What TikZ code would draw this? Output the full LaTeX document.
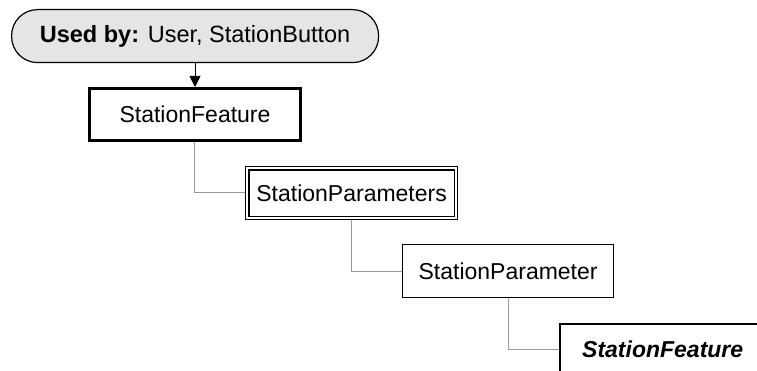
\documentclass[tikz,border=0pt]{standalone}
\usepackage{fontspec}
\setmainfont{Liberation Sans}
\usetikzlibrary{arrows.meta}
\begin{document}
\begin{tikzpicture}[x=1pt,y=-1pt,
  font=\fontsize{23}{27}\selectfont,
  elem/.style={draw=black,line width=1.2pt,fill=white,inner sep=0pt,anchor=north west},
  link/.style={draw=black!40,line width=0.9pt}]
\clip (0,0) rectangle (757,371);
% "Used by" banner
\node[draw=black,line width=1.2pt,fill=black!10,rounded corners=26pt,
      minimum width=367pt,minimum height=53pt,inner sep=0pt,anchor=north west]
  (usedby) at (11,9) {};
\node[font=\fontsize{23.5}{27}\selectfont] at (usedby.center) {\textbf{Used by:} User, StationButton};
% element boxes
\node[elem,line width=3pt,minimum width=211pt,minimum height=52pt] (sf) at (88,87) {};
\node at (sf.center) {StationFeature};
\node[elem,minimum width=212pt,minimum height=53pt] (sps) at (245,166) {};
\draw[line width=1.2pt] ([shift={(4,4)}]sps.north west) rectangle ([shift={(-4,-4)}]sps.south east);
\node at (sps.center) {StationParameters};
\node[elem,minimum width=211pt,minimum height=53pt] (sp) at (402,244) {};
\node at (sp.center) {StationParameter};
\node[elem,line width=2pt,minimum width=230pt,minimum height=60pt] (sfref) at (559,323) {};
\node[anchor=west,inner sep=0pt] at (582,349) {\textbf{\itshape StationFeature}};
% connectors
\draw[line width=0.9pt,-{Stealth[length=11pt,width=11pt,inset=0pt]}] (usedby.south -| sf.north) -- (sf.north);
\coordinate (c1) at (194,192);
\coordinate (c2) at (351,271);
\coordinate (c3) at (508,349);
\draw[link] (sf.south -| c1) -- (c1) -- (c1 -| sps.west);
\draw[link] (sps.south -| c2) -- (c2) -- (c2 -| sp.west);
\draw[link] (sp.south -| c3) -- (c3) -- (c3 -| sfref.west);
\end{tikzpicture}
\end{document}
